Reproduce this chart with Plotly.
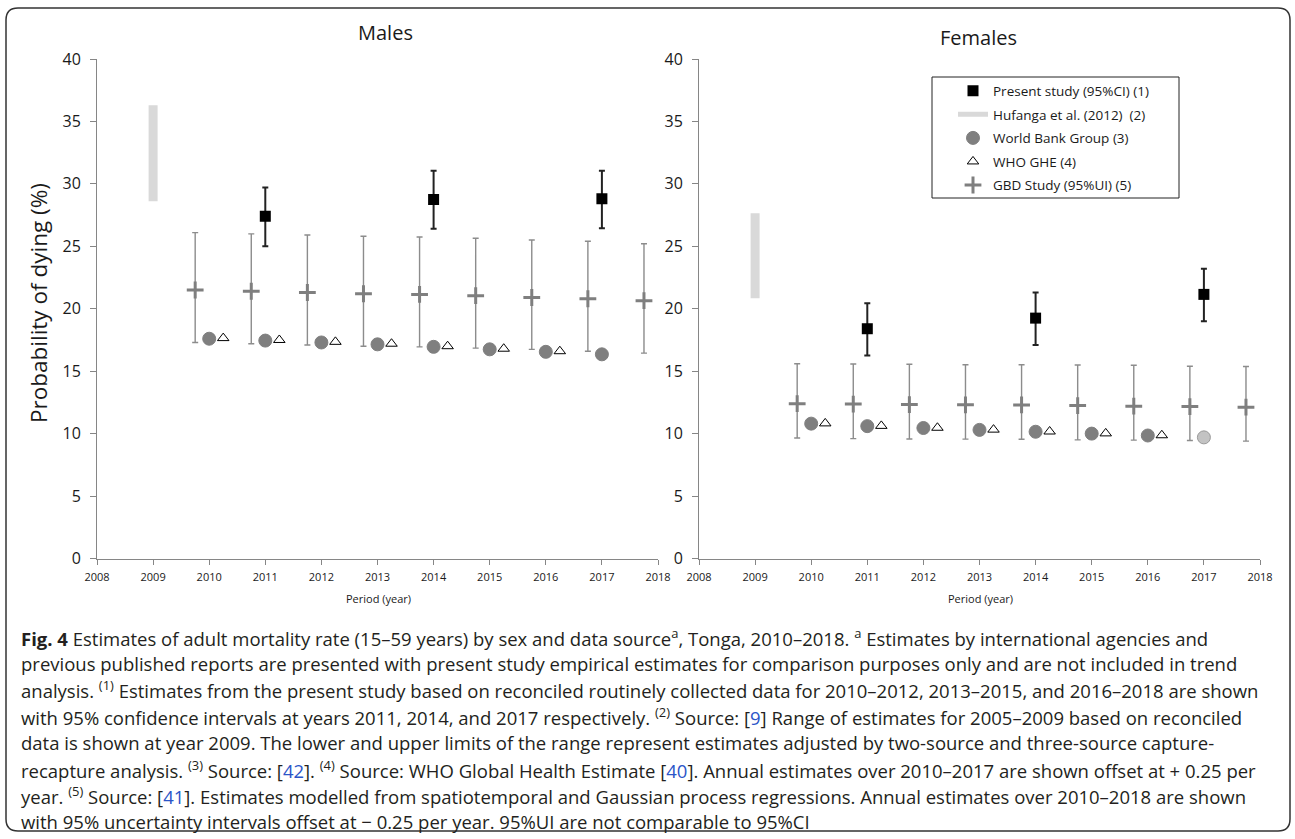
import plotly.graph_objects as go

W, H = 1295, 839

# ---------------- data ----------------
years = [2010, 2011, 2012, 2013, 2014, 2015, 2016, 2017, 2018]
wb_years = [2010, 2011, 2012, 2013, 2014, 2015, 2016, 2017]
who_years = [2010, 2011, 2012, 2013, 2014, 2015, 2016]
present_years = [2011, 2014, 2017]
hufanga_year = 2009

# Males
m_present = [27.4, 28.75, 28.8]
m_present_lo = [25.0, 26.4, 26.45]
m_present_hi = [29.7, 31.05, 31.05]
m_hufanga = [28.6, 36.3]
m_wb = [17.6, 17.45, 17.3, 17.15, 16.95, 16.75, 16.55, 16.35]
m_who = [17.65, 17.5, 17.35, 17.2, 17.0, 16.8, 16.6]
m_gbd = [21.5, 21.4, 21.3, 21.2, 21.15, 21.05, 20.9, 20.8, 20.65]
m_gbd_hi = [26.1, 26.0, 25.9, 25.8, 25.75, 25.65, 25.5, 25.4, 25.2]
m_gbd_lo = [17.3, 17.2, 17.1, 17.0, 16.95, 16.85, 16.75, 16.6, 16.45]

# Females
f_present = [18.4, 19.25, 21.15]
f_present_lo = [16.25, 17.1, 19.0]
f_present_hi = [20.45, 21.3, 23.2]
f_hufanga = [20.85, 27.65]
f_wb = [10.8, 10.6, 10.45, 10.3, 10.15, 10.0, 9.85, 9.7]
f_who = [10.82, 10.62, 10.47, 10.32, 10.17, 10.02, 9.87]
f_gbd = [12.4, 12.37, 12.33, 12.31, 12.3, 12.25, 12.2, 12.17, 12.12]
f_gbd_hi = [15.6, 15.57, 15.55, 15.52, 15.52, 15.5, 15.47, 15.4, 15.38]
f_gbd_lo = [9.65, 9.6, 9.57, 9.56, 9.55, 9.5, 9.48, 9.45, 9.4]

x_ticks = list(range(2008, 2019))
y_ticks = list(range(0, 41, 5))

# offsets used for the agency series
WHO_OFFSET = 0.25
GBD_OFFSET = -0.25

GRAY = "#7f7f7f"
AXIS = "#868686"
TEXT = "#1a1a1a"
FONT = "Open Sans"


def px_x(v):
    return v / W


def px_y(v):
    return 1 - v / H


fig = go.Figure()

panels = [
    ("x", "y", m_present, m_present_lo, m_present_hi, m_hufanga, m_wb, m_who,
     m_gbd, m_gbd_lo, m_gbd_hi, False),
    ("x2", "y2", f_present, f_present_lo, f_present_hi, f_hufanga, f_wb, f_who,
     f_gbd, f_gbd_lo, f_gbd_hi, True),
]

for (xa, ya, pr, pr_lo, pr_hi, huf, wb, who, gbd, gbd_lo, gbd_hi, legend) in panels:
    # Hufanga et al. range (bar at 2009)
    fig.add_trace(go.Scatter(
        x=[hufanga_year, hufanga_year], y=huf, mode="lines",
        line=dict(color="#d9d9d9", width=9), xaxis=xa, yaxis=ya,
        name="Hufanga et al. (2012)  (2)", legendgroup="huf", showlegend=False,
        hoverinfo="skip"))
    # GBD with 95% UI
    fig.add_trace(go.Scatter(
        x=[yr + GBD_OFFSET for yr in years], y=gbd, mode="markers",
        marker=dict(symbol="cross-thin", size=12,
                    line=dict(color=GRAY, width=3), color=GRAY),
        error_y=dict(type="data", symmetric=False,
                     array=[h - c for h, c in zip(gbd_hi, gbd)],
                     arrayminus=[c - l for c, l in zip(gbd, gbd_lo)],
                     color="#8c8c8c", thickness=1.4, width=3),
        xaxis=xa, yaxis=ya, name="GBD Study (95%UI) (5)", legendgroup="gbd",
        showlegend=legend, legendrank=5, cliponaxis=False))
    # World Bank Group
    wb_colors = [GRAY] * len(wb)
    wb_lines = [GRAY] * len(wb)
    if legend:
        wb_colors[-1] = "#c3c3c3"
        wb_lines[-1] = "#9a9a9a"
    fig.add_trace(go.Scatter(
        x=wb_years, y=wb, mode="markers",
        marker=dict(symbol="circle", size=13, color=wb_colors,
                    line=dict(color=wb_lines, width=1)),
        xaxis=xa, yaxis=ya, name="World Bank Group (3)", legendgroup="wb",
        showlegend=legend, legendrank=3))
    # WHO GHE
    fig.add_trace(go.Scatter(
        x=[yr + WHO_OFFSET for yr in who_years], y=who, mode="markers",
        marker=dict(symbol="triangle-up", size=10, color="white",
                    line=dict(color="black", width=1)),
        xaxis=xa, yaxis=ya, name="WHO GHE (4)", legendgroup="who",
        showlegend=legend, legendrank=4))
    # Present study with 95% CI
    fig.add_trace(go.Scatter(
        x=present_years, y=pr, mode="markers",
        marker=dict(symbol="square", size=11, color="black"),
        error_y=dict(type="data", symmetric=False,
                     array=[h - c for h, c in zip(pr_hi, pr)],
                     arrayminus=[c - l for c, l in zip(pr, pr_lo)],
                     color="#222222", thickness=2, width=3),
        xaxis=xa, yaxis=ya, name="Present study (95%CI) (1)",
        legendgroup="pres", showlegend=legend, legendrank=1))

# legend entry for the Hufanga range, drawn with a thinner sample line
fig.add_trace(go.Scatter(
    x=[None], y=[None], mode="lines", line=dict(color="#d9d9d9", width=5),
    xaxis="x2", yaxis="y2", name="Hufanga et al. (2012)  (2)",
    legendgroup="huf", showlegend=True, legendrank=2))

y_dom = [px_y(558.5), px_y(59)]
axis_common = dict(showline=True, linecolor=AXIS, linewidth=1, ticks="outside",
                   tickcolor=AXIS, showgrid=False, zeroline=False, automargin=False)
x_common = dict(range=[2008, 2018], tickvals=x_ticks, ticklen=5,
                tickfont=dict(size=11), ticklabelstandoff=3, **axis_common)
y_common = dict(range=[0, 40], tickvals=y_ticks, ticklen=6, domain=y_dom,
                tickfont=dict(size=16), ticklabelstandoff=6, **axis_common)

fig.update_layout(
    width=W, height=H,
    margin=dict(l=0, r=0, t=0, b=0, autoexpand=False),
    paper_bgcolor="white", plot_bgcolor="white",
    font=dict(family=FONT, color=TEXT),
    showlegend=True,
    xaxis=dict(domain=[px_x(97), px_x(658)], anchor="y", **x_common),
    yaxis=dict(anchor="x", **y_common),
    xaxis2=dict(domain=[px_x(699), px_x(1260)], anchor="y2", **x_common),
    yaxis2=dict(anchor="x2", **y_common),
    legend=dict(x=px_x(953), xanchor="left", y=px_y(75.5), yanchor="top",
                bgcolor="rgba(0,0,0,0)", borderwidth=0,
                font=dict(size=13.5, family=FONT, color=TEXT),
                traceorder="grouped", tracegroupgap=3),
)

annotations = [
    dict(text="Males", x=px_x(385), y=px_y(33), font=dict(size=20)),
    dict(text="Females", x=px_x(978), y=px_y(38), font=dict(size=20)),
    dict(text="Probability of dying (%)", x=px_x(38), y=px_y(303),
         textangle=-90, font=dict(size=22.5)),
    dict(text="Period (year)", x=px_x(378), y=px_y(598), font=dict(size=11)),
    dict(text="Period (year)", x=px_x(980), y=px_y(598), font=dict(size=11)),
]
for a in annotations:
    a.update(xref="paper", yref="paper", showarrow=False,
             xanchor="center", yanchor="middle")

LINK = "<span style='color:#2b55c8'>{}</span>"
caption_lines = [
    "<b>Fig. 4</b> Estimates of adult mortality rate (15–59 years) by sex and data source<sup>a</sup>, "
    "Tonga, 2010–2018. <sup>a</sup> Estimates by international agencies and",
    "previous published reports are presented with present study empirical estimates for comparison "
    "purposes only and are not included in trend",
    "analysis. <sup>(1)</sup> Estimates from the present study based on reconciled routinely collected "
    "data for 2010–2012, 2013–2015, and 2016–2018 are shown",
    "with 95% confidence intervals at years 2011, 2014, and 2017 respectively. <sup>(2)</sup> Source: ["
    + LINK.format("9") + "] Range of estimates for 2005–2009 based on reconciled",
    "data is shown at year 2009. The lower and upper limits of the range represent estimates adjusted "
    "by two-source and three-source capture-",
    "recapture analysis. <sup>(3)</sup> Source: [" + LINK.format("42") + "]. <sup>(4)</sup> Source: "
    "WHO Global Health Estimate [" + LINK.format("40") + "]. Annual estimates over 2010–2017 are "
    "shown offset at + 0.25 per",
    "year. <sup>(5)</sup> Source: [" + LINK.format("41") + "]. Estimates modelled from spatiotemporal "
    "and Gaussian process regressions. Annual estimates over 2010–2018 are shown",
    "with 95% uncertainty intervals offset at − 0.25 per year. 95%UI are not comparable to 95%CI",
]
for i, line in enumerate(caption_lines):
    annotations.append(dict(
        text=line, x=px_x(19), y=px_y(637 + 26.4 * i), xref="paper", yref="paper",
        xanchor="left", yanchor="middle", showarrow=False, align="left",
        font=dict(family="Open Sans", size=18.5, color="#231f20")))

fig.update_layout(annotations=annotations)

# rounded outer frame
x0, y0, x1, y1, r = 6, 8, 1290, 831, 12
frame = (f"M {px_x(x0 + r)} {px_y(y0)} L {px_x(x1 - r)} {px_y(y0)} "
         f"Q {px_x(x1)} {px_y(y0)} {px_x(x1)} {px_y(y0 + r)} "
         f"L {px_x(x1)} {px_y(y1 - r)} Q {px_x(x1)} {px_y(y1)} {px_x(x1 - r)} {px_y(y1)} "
         f"L {px_x(x0 + r)} {px_y(y1)} Q {px_x(x0)} {px_y(y1)} {px_x(x0)} {px_y(y1 - r)} "
         f"L {px_x(x0)} {px_y(y0 + r)} Q {px_x(x0)} {px_y(y0)} {px_x(x0 + r)} {px_y(y0)} Z")
fig.add_shape(type="path", path=frame, xref="paper", yref="paper",
              line=dict(color="#333333", width=1.5))
# legend box
fig.add_shape(type="rect", xref="paper", yref="paper",
              x0=px_x(932), x1=px_x(1179), y0=px_y(77), y1=px_y(198),
              line=dict(color="#222222", width=1), fillcolor="rgba(0,0,0,0)")

fig.write_html("out.html")
